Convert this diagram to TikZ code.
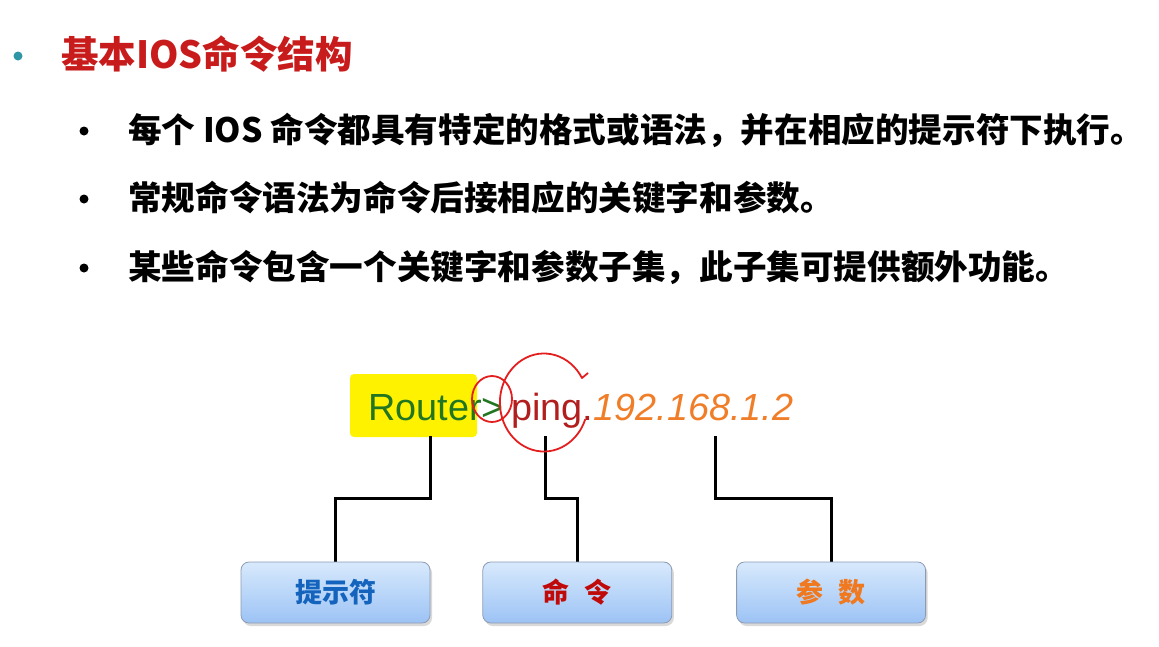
\documentclass[tikz,border=0pt]{standalone}
\usepackage{fontspec}
\setmainfont{Liberation Sans}
\newfontfamily\cjk{Noto Sans CJK SC}
\usepackage{xcolor}
\usepackage{tikz}
\usetikzlibrary{calc,backgrounds,shadows,positioning}
\definecolor{titlered} {RGB} {200, 28, 28}
\definecolor{dotteal} {RGB} {46, 150, 165}
\definecolor{routergreen} {RGB} {34, 118, 34}
\definecolor{pingred} {RGB} {178, 30, 30}
\definecolor{iporange} {RGB} {240, 125, 40}
\definecolor{hiyellow} {RGB} {255, 242, 0}
\definecolor{ringred} {RGB} {228, 30, 30}
\definecolor{promptblue} {RGB} {20, 100, 190}
\definecolor{cmdred} {RGB} {192, 10, 10}
\definecolor{parorange} {RGB} {240, 120, 30}
\definecolor{boxtop} {RGB} {216, 233, 252}
\definecolor{boxbot} {RGB} {156, 195, 245}
\definecolor{boxline} {RGB} {140, 155, 178}
\tikzstyle{slide}=[
  x=1pt, y=-1pt, line join=round
]
\tikzstyle{dot}=[
  circle, fill=black, inner sep=0pt, minimum size=9pt
]
\tikzstyle{item}=[
  anchor=west, inner sep=0pt, font=\cjk\bfseries\fontsize{33.6}{40}\selectfont
]
\tikzstyle{cmd}=[
  anchor=base west, inner sep=0pt, font=\fontsize{37.8}{42}\selectfont
]
\tikzstyle{part}=[
  draw=boxline, line width=0.8pt, rounded corners=8pt,
  minimum width=189pt, minimum height=61pt,
  top color=boxtop, bottom color=boxbot,
  drop shadow={shadow xshift=2pt, shadow yshift=-3pt, opacity=0.3},
  font=\cjk\bfseries\fontsize{27}{30}\selectfont
]
\tikzstyle{conn}=[
  line width=3pt, black
]
\tikzstyle{ring}=[
  draw=ringred, line width=1.8pt
]

\begin{document}
\begin{tikzpicture}[slide]
    \useasboundingbox (0,0) rectangle (1159,646);

    % heading and bullet lines
    \node (head dot) [dot, fill=dotteal] at (18,56) {};
    \node (head) [anchor=west, inner sep=0pt, text=titlered,
        font=\cjk\bfseries\fontsize{37.5}{42}\selectfont] at (61,54) {基本IOS命令结构};
    \node (dot1) [dot] at (84,131) {};
    \node (item1) [item] at (128,130) {每个 IOS 命令都具有特定的格式或语法，并在相应的提示符下执行。};
    \node (dot2) [dot] at ($(dot1) + (0,68)$) {};
    \node (item2) [item] at ($(item1.west) + (0,68)$) {常规命令语法为命令后接相应的关键字和参数。};
    \node (dot3) [dot] at ($(dot2) + (0,69)$) {};
    \node (item3) [item] at ($(item2.west) + (0,69)$) {某些命令包含一个关键字和参数子集，此子集可提供额外功能。};

    % the command line
    \node (router) [cmd, text=routergreen] at (368,420) {Router>};
    \node (ping) [cmd, text=pingred] at ($(router.base east) + (7,0)$) {ping.};
    \node (ip) [cmd, text=iporange, font=\fontsize{37.8}{42}\selectfont\itshape]
        at (ping.base east) {192.168.1.2};

    % the three parts
    \node (prompt) [part, text=promptblue] at (335.5,592.5) {提示符};
    \node (command) [part, text=cmdred, right=52pt of prompt] {命\hspace{0.55em}令};
    \node (param) [part, text=parorange, right=64pt of command] {参\hspace{0.55em}数};

    \coordinate (rfoot) at (430,436);
    \coordinate (pfoot) at (545,436);
    \coordinate (ifoot) at (715,436);

    \begin{scope}[on background layer]
        \fill[hiyellow, rounded corners=4pt] (350,374) rectangle (477,437);
        \draw [conn] (rfoot) -- ++(0,62) -| (prompt.north);
        \draw [conn] (pfoot) -- ++(0,62) -| (command.north);
        \draw [conn] (ifoot) -- ++(0,62) -| (param.north);
    \end{scope}

    % pen marks
    \draw [ring] (492,399) ellipse [x radius=20, y radius=23];
    \draw [ring] (588,373) -- (582,378) arc [start angle=-30, end angle=-340, x radius=44, y radius=49];
\end{tikzpicture}
\end{document}
